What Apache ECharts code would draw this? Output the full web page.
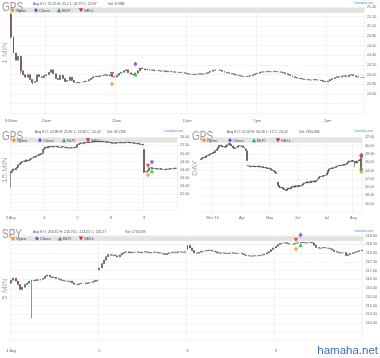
<!DOCTYPE html>
<html><head><meta charset="utf-8">
<script src="https://cdn.jsdelivr.net/npm/echarts/dist/echarts.min.js"></script>
<style>html,body{margin:0;padding:0;background:#fff}#c{width:380px;height:358px}</style>
</head><body><div id="c"></div>
<script>
// ---------- GPS 1 MIN (2-minute sampled bars) ----------
const gps1mTickIdx = [0, 15, 45, 75, 105, 135];
const gps1mTickText = ['9:30am', '10am', '11am', '12pm', '1pm', '2pm'];
const gps1mOpen0 = 25.25;
const gps1mClose = [
  24.78,24.45,24.30,24.38,24.08,24.00,23.95,24.00,23.90,23.84,
  23.86,24.00,23.96,23.94,23.98,24.00,24.05,24.10,24.02,23.92,
  23.90,23.99,23.92,23.86,23.88,23.95,23.88,23.84,23.83,23.84,
  23.85,23.86,23.87,23.90,23.93,23.96,23.97,23.96,23.98,23.99,
  24.00,23.98,24.00,23.96,23.95,23.99,24.03,24.05,24.08,24.10,
  24.04,24.01,24.00,24.03,24.08,24.14,24.12,24.10,24.11,24.09,
  24.10,24.08,24.09,24.08,24.07,24.08,24.06,24.07,24.06,24.06,
  24.05,24.05,24.04,24.04,24.03,24.02,24.01,24.01,24.00,24.01,
  24.02,24.01,24.02,24.03,24.05,24.07,24.09,24.10,24.10,24.09,
  24.07,24.05,24.04,24.03,24.02,24.00,23.99,23.98,23.97,23.96,
  23.96,23.97,23.98,24.00,24.02,24.03,24.05,24.06,24.06,24.07,
  24.06,24.06,24.07,24.06,24.06,24.05,24.04,24.02,24.00,23.98,
  23.96,23.94,23.93,23.92,23.91,23.90,23.90,23.89,23.89,23.90,
  23.89,23.89,23.88,23.86,23.85,23.87,23.90,23.92,23.94,23.96,
  23.95,23.97,23.98,23.96,23.99,24.00,23.98,23.96,23.95,23.94,23.95
];
const gps1mOpens = {};
const gps1mWicks = {0:[24.75,25.28], 4:[24.02,24.30], 9:[23.80,23.90]};
const gps1mOpenMark = [43, 23.81], gps1mCloseMark = [53, 24.22], gps1mBuyMark = [53, 24.01], gps1mSellMark = [43, 24.01];

// ---------- GPS 15 MIN ----------
const gps15Days = ['3 Aug', '4', '5', '8', '9'];
const gps15Close = [
  23.85,23.95,24.05,24.00,24.10,24.15,24.30,24.40,24.45,24.50,24.55,24.50,24.60,24.55,24.60,24.65,24.70,24.75,24.80,24.78,24.85,24.90,24.95,24.92,25.00,25.25,
  25.30,25.40,25.35,25.42,25.40,25.45,25.42,25.40,25.43,25.45,25.42,25.40,25.38,25.40,25.42,25.40,25.38,25.36,25.35,25.33,25.35,25.36,25.34,25.36,25.38,25.40,
  25.55,25.60,25.62,25.65,25.63,25.66,25.68,25.66,25.70,25.68,25.70,25.72,25.74,25.72,25.75,25.73,25.76,25.74,25.72,25.75,25.74,25.72,25.70,25.72,25.70,25.68,
  25.66,25.64,25.66,25.63,25.65,25.67,25.66,25.68,25.67,25.65,25.66,25.68,25.70,25.69,25.68,25.66,25.65,25.66,25.64,25.62,25.60,25.62,25.58,25.57,25.55,25.52,
  23.85,23.88,23.90,23.95,24.10,24.12,24.08,24.10,24.06,24.08,24.05,24.04,24.06,24.03,24.02,24.00,24.02,24.04,24.03,24.05,24.06,24.08,24.06,24.08,24.10,24.09
];
const gps15Opens = {0:23.80, 104:25.25};
const gps15Wicks = {0:[22.90,23.90], 104:[23.80,25.25]};
const gps15OpenMark = [107, 23.67], gps15CloseMark = [110, 24.48], gps15BuyMark = [110, 23.92], gps15SellMark = [107, 24.23];

// ---------- GPS DAY ----------
const gpsDayStart = '2016-02-17';
const gpsDayHolidays = ['2016-03-25', '2016-05-30', '2016-07-04'];
const gpsDayTickText = ["Mar '16", 'Apr', 'May', 'Jun', 'Jul', 'Aug'];
const gpsDayClose = [
  26.8,27.0,27.2,27.1,27.5,27.6,27.8,28.0,28.1,28.4,
  28.3,28.8,29.2,29.6,30.1,29.9,29.7,29.8,29.6,29.9,
  30.2,30.5,30.3,29.9,29.5,29.3,29.4,29.6,29.9,30.0,
  29.8,29.9,29.6,29.2,28.8,26.4,25.1,24.9,25.0,25.1,
  24.9,25.0,24.9,25.1,25.0,24.8,24.9,24.7,24.8,24.6,
  24.5,24.6,24.4,24.2,24.0,23.8,23.5,23.3,20.4,20.0,
  19.8,19.9,19.6,19.4,19.2,19.5,19.8,19.6,19.9,20.2,
  20.0,20.3,20.1,20.4,20.2,20.3,20.5,20.8,21.0,21.2,
  21.0,21.3,21.1,21.4,21.2,21.5,21.3,21.6,22.0,22.4,
  22.6,22.5,22.8,22.7,22.9,23.4,24.0,24.4,24.6,24.5,
  24.7,24.8,24.9,25.1,25.2,25.3,25.2,25.4,25.3,25.5,
  25.8,26.1,26.3,26.2,26.4,26.2,25.9,25.8,26.3,26.5,
  26.6,24.0
];
const gpsDayOpens = {0:26.6, 35:28.7, 36:25.2, 58:21.2, 121:26.8};
const gpsDayWicks = {116:[24.8,26.2], 121:[23.6,27.0]};
const gpsDayOpenMark = [121, 23.7], gpsDayCloseMark = [121, 27.73], gpsDayBuyMark = [121, 24.6], gpsDaySellMark = [121, 27.08];

// ---------- SPY 5 MIN (10-minute sampled bars) ----------
const spyDays = ['4 Aug', '5', '8', '9'];
const spyClose = [
  216.45,216.57,216.40,216.20,215.92,216.05,216.20,216.28,216.40,216.45,216.42,216.48,216.45,216.50,216.55,216.68,216.74,216.65,216.60,216.62,
  216.55,216.50,216.45,216.42,216.40,216.38,216.40,216.30,216.22,216.20,216.25,216.28,216.30,216.26,216.30,216.32,216.38,216.45,216.40,
  217.15,217.40,217.60,217.80,217.92,217.88,217.90,217.85,217.78,217.90,218.00,218.05,218.08,218.02,218.06,218.04,218.08,218.05,218.03,218.06,
  218.08,218.05,218.02,218.04,218.06,218.05,218.03,218.00,217.96,217.92,217.98,218.02,218.05,218.06,218.04,218.08,218.06,218.05,218.08,
  218.45,218.30,218.15,218.02,218.00,218.05,218.10,218.12,218.15,218.18,218.16,218.12,218.08,218.02,218.00,218.02,218.00,217.98,218.00,218.02,
  218.00,218.01,217.98,218.00,217.96,217.90,217.86,217.84,217.83,217.85,217.84,217.86,217.88,217.90,217.95,218.02,218.10,218.20,218.30,
  218.40,218.50,218.56,218.58,218.60,218.55,218.52,218.50,218.55,218.58,218.60,218.62,218.60,218.58,218.60,218.62,218.58,218.45,218.32,218.28,
  218.30,218.32,218.30,218.28,218.25,218.18,218.10,218.06,218.02,218.00,218.04,217.86,217.92,217.98,218.02,218.06,218.10,218.14,218.18
];
const spyOpens = {0:216.28, 39:217.05, 78:218.20};
const spyWicks = {9:[214.27,216.47]};
const spyOpenMark = [126, 218.24], spyCloseMark = [128, 219.04], spyBuyMark = [128, 218.47], spySellMark = [126, 218.75];

// ---------- helpers ----------
function ohlc(closes, open0, opens, wicks) {
  const out = [];
  for (let i = 0; i < closes.length; i++) {
    const o = opens[i] !== undefined ? opens[i] : (i === 0 ? open0 : closes[i - 1]);
    const c = closes[i];
    let lo = Math.min(o, c), hi = Math.max(o, c);
    if (wicks[i]) { lo = Math.min(lo, wicks[i][0]); hi = Math.max(hi, wicks[i][1]); }
    out.push([o, c, lo, hi]);
  }
  return out;
}
function dayCats(days, perDay) {
  const cats = [], idx = [];
  days.forEach((d, k) => { idx.push(k * perDay); for (let j = 0; j < perDay; j++) cats.push(d + ' #' + j); });
  return {cats, idx};
}
function tradingDays(start, n, hol) {
  const out = []; const d = new Date(start + 'T12:00:00Z');
  while (out.length < n) {
    const s = d.toISOString().slice(0, 10); const w = d.getUTCDay();
    if (w !== 0 && w !== 6 && !hol.includes(s)) out.push(s);
    d.setUTCDate(d.getUTCDate() + 1);
  }
  return out;
}
const FONT = 'Liberation Sans, Arial, sans-serif';
function catAxis(g, cats, tickIdx, tickText, margin) {
  const set = new Set(tickIdx);
  return {
    type: 'category', gridIndex: g, data: cats, boundaryGap: true,
    axisLine: {show: false}, axisTick: {show: false},
    axisLabel: {interval: (i) => set.has(i), formatter: (v, i) => { const k = tickIdx.indexOf(i); return k >= 0 ? tickText[k] : ''; },
      fontSize: 3.7, color: '#666', margin: margin, fontFamily: FONT},
    splitLine: {show: true, interval: (i) => set.has(i), lineStyle: {color: '#ebebeb', width: 0.6}}
  };
}
function valAxis(g, min, max, interval, minLabel) {
  return {
    type: 'value', gridIndex: g, position: 'right', min, max, interval,
    axisLine: {show: false}, axisTick: {show: false},
    axisLabel: {fontSize: 3.7, color: '#666', margin: 3, fontFamily: FONT,
      formatter: (v) => v < minLabel - 1e-6 ? '' : v.toFixed(2)},
    splitLine: {lineStyle: {color: '#ebebeb', width: 0.6}}
  };
}
const candleStyle = {color: '#3f9f3f', color0: '#b3261e', borderColor: '#3a3a3a', borderColor0: '#3a3a3a', borderWidth: 0.55};
const markCols = {Open: '#f0932b', Close: '#7e3ccf', BUY: '#2fb344', SELL: '#d9322b'};
function markers(g, om, cm, bm, sm) {
  const base = {type: 'scatter', xAxisIndex: g, yAxisIndex: g, clip: false, symbolSize: 4.5, z: 5};
  return [
    Object.assign({}, base, {name: 'Open', symbol: 'diamond', symbolSize: [4.2, 5], itemStyle: {color: markCols.Open}, data: [om]}),
    Object.assign({}, base, {name: 'Close', symbol: 'diamond', symbolSize: [4.2, 5], itemStyle: {color: markCols.Close}, data: [cm]}),
    Object.assign({}, base, {name: 'BUY', symbol: 'triangle', itemStyle: {color: markCols.BUY}, data: [bm]}),
    Object.assign({}, base, {name: 'SELL', symbol: 'triangle', symbolRotate: 180, itemStyle: {color: markCols.SELL}, data: [sm]})
  ];
}

// ---------- categories ----------
const gps1mCats = gps1mClose.map((_, i) => { const m = 570 + 2 * i; return Math.floor(m / 60) + ':' + String(m % 60).padStart(2, '0'); });
const g15 = dayCats(gps15Days, 26);
const sp = dayCats(spyDays, 39);
const dayDates = tradingDays(gpsDayStart, gpsDayClose.length, gpsDayHolidays);
const dayTickIdx = [];
dayDates.forEach((d, i) => { if (i > 0 && d.slice(5, 7) !== dayDates[i - 1].slice(5, 7)) dayTickIdx.push(i); });

// ---------- decorations ----------
const graphics = [];
function txt(x, y, text, size, fill, opt) {
  graphics.push(Object.assign({type: 'text', x, y, silent: true, z: 10,
    style: Object.assign({text, fontSize: size, fill, fontFamily: FONT, textVerticalAlign: 'middle', textAlign: 'left'}, (opt && opt.style) || {})},
    opt && opt.el || {}));
}
function panelDeco(p) {
  txt(p.tx, p.ty, p.title, 13.5, '#9a9a9a', {el: {scaleX: 0.74}});
  txt(p.ix, p.iy, p.info, 3.5, '#555');
  txt(p.vx, p.iy, p.vol, 3.5, '#555');
  txt(p.hx, p.hy, 'hamaha.net', 3.5, '#4a90d9', {style: {textAlign: 'right'}});
  graphics.push({type: 'rect', silent: true, z: 0, shape: {x: p.band[0], y: p.band[1], width: p.band[2], height: p.band[3]}, style: {fill: '#e3e3e3'}});
  const cy = p.band[1] + p.band[3] / 2;
  const names = ['Open', 'Close', 'BUY', 'SELL'];
  p.leg.forEach((cx, k) => {
    let pts;
    if (k < 2) pts = [[cx, cy - 2.2], [cx + 1.9, cy], [cx, cy + 2.2], [cx - 1.9, cy]];
    else if (k === 2) pts = [[cx, cy - 2.1], [cx + 2.2, cy + 2.0], [cx - 2.2, cy + 2.0]];
    else pts = [[cx - 2.2, cy - 2.0], [cx + 2.2, cy - 2.0], [cx, cy + 2.1]];
    graphics.push({type: 'polygon', silent: true, z: 10, shape: {points: pts}, style: {fill: markCols[names[k]]}});
    txt(cx + 3, cy + 0.2, names[k], 4.2, '#444');
  });
  txt(p.sx, p.sy, p.side, 8, '#aaa', {el: {rotation: Math.PI / 2}, style: {textAlign: 'center'}});
}
panelDeco({title: 'GPS', tx: 2, ty: 7.5, info: 'Aug 8 O: 25.25 H: 25.2 L: 23.79 C: 23.87', ix: 33, iy: 4, vol: 'Vol: 8.93M', vx: 108,
  hx: 373, hy: 3, band: [10, 7.7, 354, 5], leg: [12.7, 36, 59, 81], side: '1 MIN', sx: 5, sy: 53});
panelDeco({title: 'GPS', tx: 2, ty: 136, info: 'Aug 8 O: 23.88 H: 25.87 L: 22.85 C: 24.02', ix: 35, iy: 132, vol: 'Vol: 35.71M', vx: 107,
  hx: 183, hy: 131, band: [10, 137.8, 167, 5], leg: [14, 40, 64, 88], side: '15 MIN', sx: 5, sy: 170});
panelDeco({title: 'GPS', tx: 192, ty: 136, info: 'Aug 8 O: 25.53 H: 30.48 L: 17 C: 24.02', ix: 227, iy: 132, vol: 'Vol: 785.03M', vx: 299,
  hx: 373, hy: 131, band: [200, 137.8, 162, 5], leg: [204, 230, 254, 278], side: 'DAY', sx: 195, sy: 168});
panelDeco({title: 'SPY', tx: 2, ty: 234, info: 'Aug 8 O: 216.31 H: 216.76 L: 214.25 C: 216.17', ix: 33, iy: 232, vol: 'Vol: 176.67M', vx: 125,
  hx: 373, hy: 231, band: [10, 236.2, 354, 4.8], leg: [13, 37, 60, 81], side: '5 MIN', sx: 5, sy: 289});
txt(378, 351, 'hamaha.net', 11.5, '#3d6eb4', {style: {textAlign: 'right'}});

// ---------- option ----------
function candles(g, data, w) {
  return {type: 'candlestick', xAxisIndex: g, yAxisIndex: g, itemStyle: candleStyle, barWidth: w, barMinWidth: w, barMaxWidth: w, data};
}
const option = {
  animation: false,
  backgroundColor: '#fff',
  grid: [
    {left: 10, top: 7, width: 354, height: 106.4},
    {left: 10, top: 137.3, width: 167, height: 72.9},
    {left: 200, top: 137.3, width: 162, height: 74.7},
    {left: 10, top: 235.7, width: 354, height: 104.8}
  ],
  xAxis: [
    catAxis(0, gps1mCats, gps1mTickIdx, gps1mTickText, 5.5),
    catAxis(1, g15.cats, g15.idx, gps15Days, 5.5),
    catAxis(2, dayDates, dayTickIdx, gpsDayTickText, 3.8),
    catAxis(3, sp.cats, sp.idx, spyDays, 8)
  ],
  yAxis: [
    valAxis(0, 23.2, 25.4, 0.2, 23.6),
    valAxis(1, 21.5, 26.0, 0.5, 22.5),
    valAxis(2, 14, 32, 2, 16),
    valAxis(3, 213, 219, 0.5, 214)
  ],
  series: [
    candles(0, ohlc(gps1mClose, gps1mOpen0, gps1mOpens, gps1mWicks), 1.45),
    candles(1, ohlc(gps15Close, gps15Close[0], gps15Opens, gps15Wicks), 1.45),
    candles(2, ohlc(gpsDayClose, gpsDayClose[0], gpsDayOpens, gpsDayWicks), 1.45),
    candles(3, ohlc(spyClose, spyClose[0], spyOpens, spyWicks), 1.45)
  ].concat(
    markers(0, gps1mOpenMark, gps1mCloseMark, gps1mBuyMark, gps1mSellMark),
    markers(1, gps15OpenMark, gps15CloseMark, gps15BuyMark, gps15SellMark),
    markers(2, gpsDayOpenMark, gpsDayCloseMark, gpsDayBuyMark, gpsDaySellMark),
    markers(3, spyOpenMark, spyCloseMark, spyBuyMark, spySellMark)
  ),
  graphic: graphics
};
const chart = echarts.init(document.getElementById('c'), null, {renderer: 'canvas', width: 380, height: 358});
chart.setOption(option);
</script></body></html>
